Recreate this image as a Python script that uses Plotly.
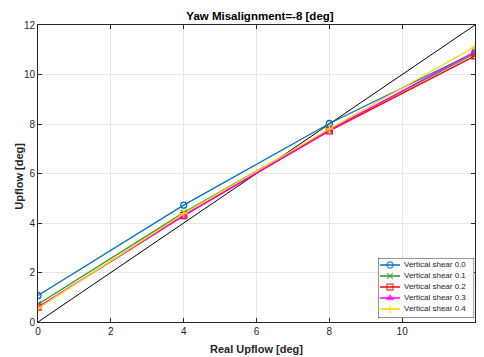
import plotly.graph_objects as go

real_upflow = [0, 4, 8, 12]
series_names = ["Vertical shear 0.0", "Vertical shear 0.1", "Vertical shear 0.2",
                "Vertical shear 0.3", "Vertical shear 0.4"]
shear_00 = [1.07, 4.72, 8.02, 10.9]
shear_01 = [0.72, 4.42, 7.78, 10.85]
shear_02 = [0.6, 4.3, 7.72, 10.75]
shear_03 = [0.6, 4.3, 7.75, 10.92]
shear_04 = [0.55, 4.38, 7.8, 11.12]
ref_x = [0, 12]
ref_y = [0, 12]
ticks = [0, 2, 4, 6, 8, 10, 12]

colors = ["#0072BD", "#2a9a2a", "#FF0000", "#FF00FF", "#FFD700"]
symbols = ["circle-open", "x-thin-open", "square-open", "triangle-up", "cross-thin-open"]
all_series = [shear_00, shear_01, shear_02, shear_03, shear_04]

FONT = "Liberation Sans, Arial, sans-serif"
fig = go.Figure()
fig.add_trace(go.Scatter(x=ref_x, y=ref_y, mode="lines", line=dict(color="black", width=1),
                         showlegend=False))
for name, ys, c, s in zip(series_names, all_series, colors, symbols):
    fig.add_trace(go.Scatter(x=real_upflow, y=ys, mode="lines+markers", name=name,
                             showlegend=False,
                             line=dict(color=c, width=1.3),
                             marker=dict(symbol=s, size=6, color=c,
                                         line=dict(color=c, width=1.3))))

# manual compact legend (MATLAB style) in its own small invisible axes
fig.add_trace(go.Scatter(x=[0, 96, 96, 0, 0], y=[0, 0, 60, 60, 0], mode="lines",
                         fill="toself", fillcolor="white",
                         line=dict(color="#262626", width=1),
                         xaxis="x2", yaxis="y2", showlegend=False, hoverinfo="skip"))
for i, (name, c, s) in enumerate(zip(series_names, colors, symbols)):
    yy = 7 + 11 * i
    fig.add_trace(go.Scatter(x=[2, 12, 22], y=[yy, yy, yy], mode="lines+markers",
                             line=dict(color=c, width=1.3),
                             marker=dict(symbol=s, size=[0, 6, 0], color=c,
                                         line=dict(color=c, width=1.3)),
                             xaxis="x2", yaxis="y2", showlegend=False, hoverinfo="skip"))
    fig.add_annotation(x=23.5, y=yy, xref="x2", yref="y2", text=name, showarrow=False,
                       xanchor="left", yanchor="middle",
                       font=dict(size=8, color="#262626", family=FONT))

axis_common = dict(range=[0, 12], tickvals=ticks, showgrid=True, gridcolor="#e6e6e6",
                   gridwidth=1, zeroline=False, showline=True, linecolor="#262626",
                   linewidth=1, mirror="ticks", ticks="inside", ticklen=4, automargin=False,
                   tickcolor="#262626", tickfont=dict(size=10, color="#262626", family=FONT))
fig.update_layout(
    xaxis=dict(**axis_common),
    yaxis=dict(**axis_common),
    xaxis2=dict(domain=[0.778, 0.998], range=[0, 96], visible=False, anchor="y2",
                fixedrange=True),
    yaxis2=dict(domain=[0.0135, 0.2155], range=[60, 0], visible=False, anchor="x2",
                fixedrange=True),
)

# axis titles
fig.add_annotation(text="<b>Real Upflow [deg]</b>", xref="paper", yref="paper",
                   x=0.5, y=-0.091, xanchor="center", yanchor="middle", showarrow=False,
                   font=dict(size=11, color="#262626", family=FONT))
fig.add_annotation(text="<b>Upflow [deg]</b>", xref="paper", yref="paper",
                   x=-0.043, y=0.49, xanchor="center", yanchor="middle", showarrow=False,
                   textangle=-90, font=dict(size=11, color="#262626", family=FONT))

# page body has an 8px margin; figure sized so it stays inside the visible window
fig.update_layout(
    width=468, height=349,
    margin=dict(l=30, r=1, t=17, b=35, autoexpand=False),
    paper_bgcolor="white", plot_bgcolor="white",
    title=dict(text="<b>Yaw Misalignment=-8 [deg]</b>", x=0.508, xref="paper",
               xanchor="center", y=1 - 7.5 / 349, yref="container", yanchor="middle",
               font=dict(size=11.5, color="black", family=FONT)),
    showlegend=False,
)

fig.write_html("out.html")
